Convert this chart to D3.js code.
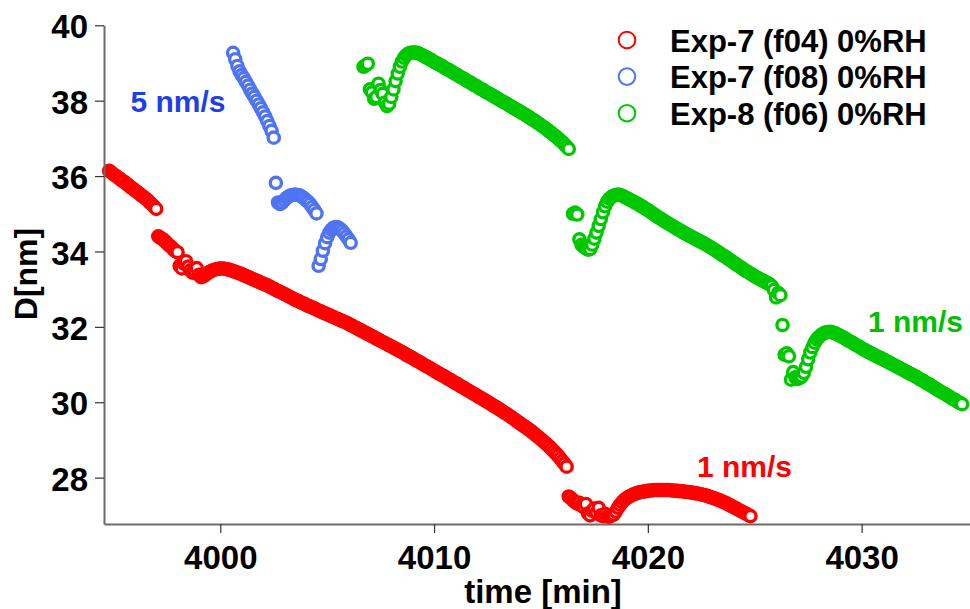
<!DOCTYPE html>
<html>
<head>
<meta charset="utf-8">
<script src="https://cdn.jsdelivr.net/npm/d3@7"></script>
<style>
  html, body { margin: 0; padding: 0; background: #fff; }
  svg { display: block; font-family: "Liberation Sans", Arial, sans-serif; font-weight: bold; }
</style>
</head>
<body>
<svg id="chart" width="970" height="609"></svg>
<script>
// Tick values
const xTicks = [4000, 4010, 4020, 4030];
const yTicks = [28, 30, 32, 34, 36, 38, 40];

// Legend entries
const seriesNames = ["Exp-7 (f04) 0%RH", "Exp-7 (f08) 0%RH", "Exp-8 (f06) 0%RH"];

// Growth-rate annotations (anchored in data units)
const rateLabels = ["5 nm/s", "1 nm/s", "1 nm/s"];
const rateTimes = [3995.8, 4030.3, 4022.3];
const rateDiameters = [37.70, 31.86, 28.02];

// [time (min), D (nm)] samples — Exp-7 (f04)
const exp7f04 = [
[3994.8,36.14],[3994.9,36.10],[3995.0,36.05],[3995.1,36.01],[3995.2,35.97],[3995.3,35.93],[3995.4,35.88],[3995.5,35.85],[3995.6,35.80],[3995.7,35.76],
[3995.8,35.71],[3995.9,35.67],[3996.0,35.62],[3996.1,35.58],[3996.2,35.54],[3996.3,35.49],[3996.4,35.45],[3996.5,35.41],[3996.6,35.36],[3996.7,35.30],
[3996.8,35.25],[3996.9,35.19],[3997.0,35.13],
[3997.1,34.40],[3997.2,34.36],[3997.3,34.33],[3997.4,34.28],[3997.5,34.22],[3997.6,34.17],[3997.7,34.12],[3997.8,34.06],[3997.9,34.01],[3998.0,33.98],
[3998.1,33.62],[3998.2,33.55],[3998.3,33.68],[3998.4,33.74],[3998.5,33.60],[3998.6,33.50],[3998.7,33.44],[3998.8,33.48],[3998.9,33.56],[3999.0,33.38],
[3999.1,33.32],[3999.2,33.34],[3999.3,33.38],[3999.4,33.42],[3999.5,33.46],[3999.6,33.49],[3999.7,33.51],[3999.8,33.53],[3999.9,33.54],[4000.0,33.55],
[4000.1,33.55],[4000.2,33.54],[4000.3,33.53],[4000.4,33.52],[4000.5,33.50],[4000.6,33.48],[4000.7,33.46],[4000.8,33.44],[4000.9,33.42],[4001.0,33.40],
[4001.1,33.37],[4001.2,33.35],[4001.3,33.32],[4001.4,33.30],[4001.5,33.27],[4001.6,33.25],[4001.7,33.22],[4001.8,33.20],[4001.9,33.17],[4002.0,33.15],
[4002.1,33.12],[4002.2,33.10],[4002.3,33.07],[4002.4,33.04],[4002.5,33.01],[4002.6,32.98],[4002.7,32.95],[4002.8,32.93],[4002.9,32.90],[4003.0,32.87],
[4003.1,32.84],[4003.2,32.81],[4003.3,32.78],[4003.4,32.75],[4003.5,32.72],[4003.6,32.70],[4003.7,32.67],[4003.8,32.64],[4003.9,32.62],[4004.0,32.59],
[4004.1,32.56],[4004.2,32.54],[4004.3,32.51],[4004.4,32.49],[4004.5,32.46],[4004.6,32.43],[4004.7,32.41],[4004.8,32.38],[4004.9,32.36],[4005.0,32.33],
[4005.1,32.31],[4005.2,32.28],[4005.3,32.26],[4005.4,32.23],[4005.5,32.21],[4005.6,32.18],[4005.7,32.16],[4005.8,32.13],[4005.9,32.11],[4006.0,32.08],
[4006.1,32.05],[4006.2,32.02],[4006.3,31.99],[4006.4,31.96],[4006.5,31.93],[4006.6,31.90],[4006.7,31.87],[4006.8,31.84],[4006.9,31.81],[4007.0,31.78],
[4007.1,31.75],[4007.2,31.72],[4007.3,31.69],[4007.4,31.66],[4007.5,31.63],[4007.6,31.60],[4007.7,31.57],[4007.8,31.54],[4007.9,31.51],[4008.0,31.48],
[4008.1,31.45],[4008.2,31.42],[4008.3,31.39],[4008.4,31.36],[4008.5,31.33],[4008.6,31.30],[4008.7,31.26],[4008.8,31.23],[4008.9,31.20],[4009.0,31.17],
[4009.1,31.13],[4009.2,31.10],[4009.3,31.07],[4009.4,31.04],[4009.5,31.00],[4009.6,30.97],[4009.7,30.94],[4009.8,30.91],[4009.9,30.87],[4010.0,30.84],
[4010.1,30.81],[4010.2,30.77],[4010.3,30.74],[4010.4,30.71],[4010.5,30.68],[4010.6,30.64],[4010.7,30.61],[4010.8,30.58],[4010.9,30.54],[4011.0,30.51],
[4011.1,30.48],[4011.2,30.44],[4011.3,30.41],[4011.4,30.38],[4011.5,30.34],[4011.6,30.31],[4011.7,30.28],[4011.8,30.24],[4011.9,30.21],[4012.0,30.18],
[4012.1,30.14],[4012.2,30.11],[4012.3,30.08],[4012.4,30.04],[4012.5,30.01],[4012.6,29.97],[4012.7,29.94],[4012.8,29.90],[4012.9,29.87],[4013.0,29.83],
[4013.1,29.80],[4013.2,29.76],[4013.3,29.72],[4013.4,29.69],[4013.5,29.65],[4013.6,29.61],[4013.7,29.57],[4013.8,29.53],[4013.9,29.49],[4014.0,29.45],
[4014.1,29.41],[4014.2,29.37],[4014.3,29.33],[4014.4,29.29],[4014.5,29.25],[4014.6,29.20],[4014.7,29.16],[4014.8,29.11],[4014.9,29.07],[4015.0,29.02],
[4015.1,28.97],[4015.2,28.92],[4015.3,28.87],[4015.4,28.82],[4015.5,28.76],[4015.6,28.70],[4015.7,28.64],[4015.8,28.58],[4015.9,28.51],[4016.0,28.44],
[4016.1,28.37],[4016.2,28.29],
[4016.3,27.50],[4016.4,27.46],[4016.5,27.40],[4016.6,27.35],[4016.7,27.31],[4016.8,27.33],[4016.9,27.26],[4017.0,27.22],[4017.1,27.30],[4017.2,27.05],
[4017.3,27.00],[4017.4,27.12],[4017.5,27.18],[4017.6,27.06],[4017.7,27.20],[4017.8,27.00],[4017.9,26.98],[4018.0,27.04],[4018.1,26.97],[4018.2,26.96],
[4018.3,27.00],[4018.4,27.02],[4018.5,27.10],[4018.6,27.20],[4018.7,27.28],[4018.8,27.35],[4018.9,27.41],[4019.0,27.45],[4019.1,27.49],[4019.2,27.52],
[4019.3,27.55],[4019.4,27.57],[4019.5,27.59],[4019.6,27.61],[4019.7,27.62],[4019.8,27.63],[4019.9,27.64],[4020.0,27.65],[4020.1,27.66],[4020.2,27.66],
[4020.3,27.67],[4020.4,27.67],[4020.5,27.67],[4020.6,27.67],[4020.7,27.67],[4020.8,27.67],[4020.9,27.67],[4021.0,27.67],[4021.1,27.66],[4021.2,27.66],
[4021.3,27.65],[4021.4,27.65],[4021.5,27.64],[4021.6,27.64],[4021.7,27.63],[4021.8,27.62],[4021.9,27.62],[4022.0,27.61],[4022.1,27.60],[4022.2,27.59],
[4022.3,27.58],[4022.4,27.57],[4022.5,27.56],[4022.6,27.54],[4022.7,27.53],[4022.8,27.51],[4022.9,27.49],[4023.0,27.47],[4023.1,27.45],[4023.2,27.43],
[4023.3,27.41],[4023.4,27.39],[4023.5,27.36],[4023.6,27.34],[4023.7,27.31],[4023.8,27.28],[4023.9,27.25],[4024.0,27.22],[4024.1,27.19],[4024.2,27.16],
[4024.3,27.13],[4024.4,27.10],[4024.5,27.07],[4024.6,27.04],[4024.7,27.01],[4024.8,26.98]
];

// [time (min), D (nm)] samples — Exp-7 (f08)
const exp7f08 = [
[4000.6,39.27],[4000.7,39.10],[4000.8,38.92],[4000.9,38.78],[4001.0,38.68],[4001.1,38.60],[4001.2,38.50],[4001.3,38.40],[4001.4,38.29],[4001.5,38.19],
[4001.6,38.10],[4001.7,38.00],[4001.8,37.90],[4001.9,37.80],[4002.0,37.69],[4002.1,37.58],[4002.2,37.46],[4002.3,37.33],[4002.4,37.20],[4002.5,37.02],
[4002.6,35.82],[4002.7,35.30],[4002.8,35.26],[4002.9,35.30],[4003.0,35.36],[4003.1,35.42],[4003.2,35.46],[4003.3,35.49],[4003.4,35.50],[4003.5,35.51],
[4003.6,35.50],[4003.7,35.49],[4003.8,35.46],[4003.9,35.42],[4004.0,35.37],[4004.1,35.32],[4004.2,35.26],[4004.3,35.18],[4004.4,35.10],[4004.5,35.01],
[4004.6,33.62],[4004.7,33.80],[4004.8,34.02],[4004.9,34.22],[4005.0,34.38],[4005.1,34.50],[4005.2,34.58],[4005.3,34.63],[4005.4,34.65],[4005.5,34.64],
[4005.6,34.60],[4005.7,34.55],[4005.8,34.48],[4005.9,34.40],[4006.0,34.32],[4006.1,34.23]
];

// [time (min), D (nm)] samples — Exp-8 (f06)
const exp8f06 = [
[4006.7,38.90],[4006.8,38.94],[4006.9,38.98],[4007.0,38.30],[4007.1,38.22],[4007.2,38.05],[4007.3,38.10],[4007.4,38.45],[4007.5,38.28],[4007.6,38.18],
[4007.7,37.95],[4007.8,37.86],[4007.9,37.92],[4008.0,38.10],[4008.1,38.30],[4008.2,38.52],[4008.3,38.72],[4008.4,38.90],[4008.5,39.04],[4008.6,39.14],
[4008.7,39.21],[4008.8,39.25],[4008.9,39.27],[4009.0,39.28],[4009.1,39.28],[4009.2,39.27],[4009.3,39.25],[4009.4,39.22],[4009.5,39.19],[4009.6,39.16],
[4009.7,39.13],[4009.8,39.10],[4009.9,39.07],[4010.0,39.03],[4010.1,39.00],[4010.2,38.97],[4010.3,38.94],[4010.4,38.91],[4010.5,38.87],[4010.6,38.84],
[4010.7,38.81],[4010.8,38.78],[4010.9,38.74],[4011.0,38.71],[4011.1,38.68],[4011.2,38.64],[4011.3,38.61],[4011.4,38.58],[4011.5,38.54],[4011.6,38.51],
[4011.7,38.48],[4011.8,38.44],[4011.9,38.41],[4012.0,38.38],[4012.1,38.34],[4012.2,38.31],[4012.3,38.28],[4012.4,38.24],[4012.5,38.21],[4012.6,38.18],
[4012.7,38.15],[4012.8,38.11],[4012.9,38.08],[4013.0,38.05],[4013.1,38.01],[4013.2,37.98],[4013.3,37.95],[4013.4,37.92],[4013.5,37.88],[4013.6,37.85],
[4013.7,37.82],[4013.8,37.78],[4013.9,37.75],[4014.0,37.72],[4014.1,37.68],[4014.2,37.65],[4014.3,37.61],[4014.4,37.58],[4014.5,37.54],[4014.6,37.50],
[4014.7,37.47],[4014.8,37.43],[4014.9,37.39],[4015.0,37.35],[4015.1,37.31],[4015.2,37.27],[4015.3,37.23],[4015.4,37.18],[4015.5,37.14],[4015.6,37.09],
[4015.7,37.05],[4015.8,37.00],[4015.9,36.95],[4016.0,36.90],[4016.1,36.84],[4016.2,36.78],[4016.3,36.72],
[4016.5,35.00],[4016.6,35.03],[4016.7,34.98],[4016.8,34.32],[4016.9,34.18],[4017.0,34.12],[4017.1,34.08],[4017.2,34.05],[4017.3,34.06],[4017.4,34.18],
[4017.5,34.34],[4017.6,34.50],[4017.7,34.68],[4017.8,34.86],[4017.9,35.04],[4018.0,35.20],[4018.1,35.32],[4018.2,35.40],[4018.3,35.45],[4018.4,35.48],
[4018.5,35.50],[4018.6,35.51],[4018.7,35.50],[4018.8,35.48],[4018.9,35.45],[4019.0,35.42],[4019.1,35.39],[4019.2,35.36],[4019.3,35.33],[4019.4,35.30],
[4019.5,35.27],[4019.6,35.24],[4019.7,35.20],[4019.8,35.17],[4019.9,35.13],[4020.0,35.10],[4020.1,35.06],[4020.2,35.02],[4020.3,34.98],[4020.4,34.94],
[4020.5,34.90],[4020.6,34.87],[4020.7,34.83],[4020.8,34.80],[4020.9,34.76],[4021.0,34.73],[4021.1,34.69],[4021.2,34.66],[4021.3,34.63],[4021.4,34.59],
[4021.5,34.56],[4021.6,34.53],[4021.7,34.49],[4021.8,34.46],[4021.9,34.43],[4022.0,34.40],[4022.1,34.37],[4022.2,34.34],[4022.3,34.31],[4022.4,34.28],
[4022.5,34.25],[4022.6,34.22],[4022.7,34.19],[4022.8,34.16],[4022.9,34.12],[4023.0,34.09],[4023.1,34.05],[4023.2,34.02],[4023.3,33.98],[4023.4,33.94],
[4023.5,33.90],[4023.6,33.87],[4023.7,33.83],[4023.8,33.79],[4023.9,33.75],[4024.0,33.71],[4024.1,33.67],[4024.2,33.63],[4024.3,33.60],[4024.4,33.56],
[4024.5,33.52],[4024.6,33.48],[4024.7,33.45],[4024.8,33.41],[4024.9,33.38],[4025.0,33.34],[4025.1,33.31],[4025.2,33.28],[4025.3,33.25],[4025.4,33.22],
[4025.5,33.19],[4025.6,33.16],[4025.7,33.13],[4025.8,33.08],[4025.9,32.98],[4026.0,32.78],[4026.1,32.90],[4026.2,32.84],
[4026.3,32.05],[4026.4,31.26],[4026.5,31.30],[4026.6,31.22],[4026.7,30.60],[4026.8,30.80],[4026.9,30.66],[4027.0,30.62],[4027.1,30.64],[4027.2,30.68],
[4027.3,30.78],[4027.4,30.94],[4027.5,31.14],[4027.6,31.32],[4027.7,31.46],[4027.8,31.58],[4027.9,31.67],[4028.0,31.73],[4028.1,31.78],[4028.2,31.82],
[4028.3,31.85],[4028.4,31.86],[4028.5,31.87],[4028.6,31.86],[4028.7,31.84],[4028.8,31.82],[4028.9,31.79],[4029.0,31.76],[4029.1,31.73],[4029.2,31.70],
[4029.3,31.66],[4029.4,31.63],[4029.5,31.60],[4029.6,31.57],[4029.7,31.53],[4029.8,31.50],[4029.9,31.47],[4030.0,31.43],[4030.1,31.40],[4030.2,31.37],
[4030.3,31.34],[4030.4,31.31],[4030.5,31.28],[4030.6,31.25],[4030.7,31.22],[4030.8,31.19],[4030.9,31.17],[4031.0,31.14],[4031.1,31.11],[4031.2,31.08],
[4031.3,31.05],[4031.4,31.02],[4031.5,30.99],[4031.6,30.96],[4031.7,30.93],[4031.8,30.90],[4031.9,30.87],[4032.0,30.84],[4032.1,30.81],[4032.2,30.78],
[4032.3,30.75],[4032.4,30.72],[4032.5,30.69],[4032.6,30.66],[4032.7,30.62],[4032.8,30.59],[4032.9,30.56],[4033.0,30.52],[4033.1,30.49],[4033.2,30.46],
[4033.3,30.42],[4033.4,30.39],[4033.5,30.35],[4033.6,30.32],[4033.7,30.28],[4033.8,30.25],[4033.9,30.22],[4034.0,30.18],[4034.1,30.15],[4034.2,30.11],
[4034.3,30.08],[4034.4,30.05],[4034.5,30.01],[4034.6,29.98],[4034.7,29.95]
];

// ---- drawing ----
const markerColors = ["#ff0000", "#4f74f2", "#00c800"];
const labelColors = ["#1f3fe6", "#00c000", "#ff0000"];

const svg = d3.select("#chart");
svg.append("rect").attr("width", 970).attr("height", 609).attr("fill", "#fff");

const x = d3.scaleLinear().domain([3994.56, 4035.07]).range([104, 970]);
const y = d3.scaleLinear().domain([26.77, 40]).range([524, 25.3]);

// data markers: open circles with a white core
const series = [exp7f04, exp7f08, exp8f06];
series.forEach((pts, i) => {
  svg.append("g")
    .selectAll("circle")
    .data(pts)
    .join("circle")
    .attr("cx", d => x(d[0]))
    .attr("cy", d => y(d[1]))
    .attr("r", 5.6)
    .attr("fill", "#fff")
    .attr("stroke", markerColors[i])
    .attr("stroke-width", 3.4);
});

// axes
const xAxis = d3.axisBottom(x).tickValues(xTicks).tickFormat(d3.format("d"))
  .tickSize(9).tickSizeOuter(0).tickPadding(13);
const yAxis = d3.axisLeft(y).tickValues(yTicks).tickFormat(d3.format("d"))
  .tickSize(9).tickSizeOuter(0).tickPadding(7);

const gx = svg.append("g").attr("transform", "translate(0,524)").call(xAxis);
const gy = svg.append("g").attr("transform", "translate(104,0)").call(yAxis);

[gx, gy].forEach(g => {
  g.select(".domain").attr("stroke", "#6b6b6b").attr("stroke-width", 2);
  g.selectAll(".tick line").attr("stroke", "#333").attr("stroke-width", 1.2);
  g.selectAll(".tick text")
    .attr("fill", "#000")
    .style("font-family", "'Liberation Sans', Arial, sans-serif")
    .style("font-weight", "bold")
    .style("font-size", "33px");
});
gy.selectAll(".tick text").attr("dy", "0.38em");

// axis titles
svg.append("text")
  .attr("x", 543).attr("y", 603)
  .attr("text-anchor", "middle")
  .style("font-size", "33px")
  .text("time [min]");

svg.append("text")
  .attr("transform", "translate(37,274) rotate(-90)")
  .attr("text-anchor", "middle")
  .style("font-size", "32px")
  .text("D[nm]");

// rate annotations
rateLabels.forEach((t, i) => {
  svg.append("text")
    .attr("x", x(rateTimes[i]))
    .attr("y", y(rateDiameters[i]))
    .attr("fill", labelColors[i])
    .style("font-size", "30px")
    .text(t);
});

// legend
const legend = svg.append("g");
seriesNames.forEach((name, i) => {
  const cy = 40 + i * 36.6;
  legend.append("circle")
    .attr("cx", 627).attr("cy", cy).attr("r", 8.3)
    .attr("fill", "#fff")
    .attr("stroke", markerColors[i])
    .attr("stroke-width", 2);
  legend.append("text")
    .attr("x", 670).attr("y", cy + 11.5)
    .attr("fill", "#000")
    .style("font-size", "31px")
    .text(name);
});
</script>
</body>
</html>
